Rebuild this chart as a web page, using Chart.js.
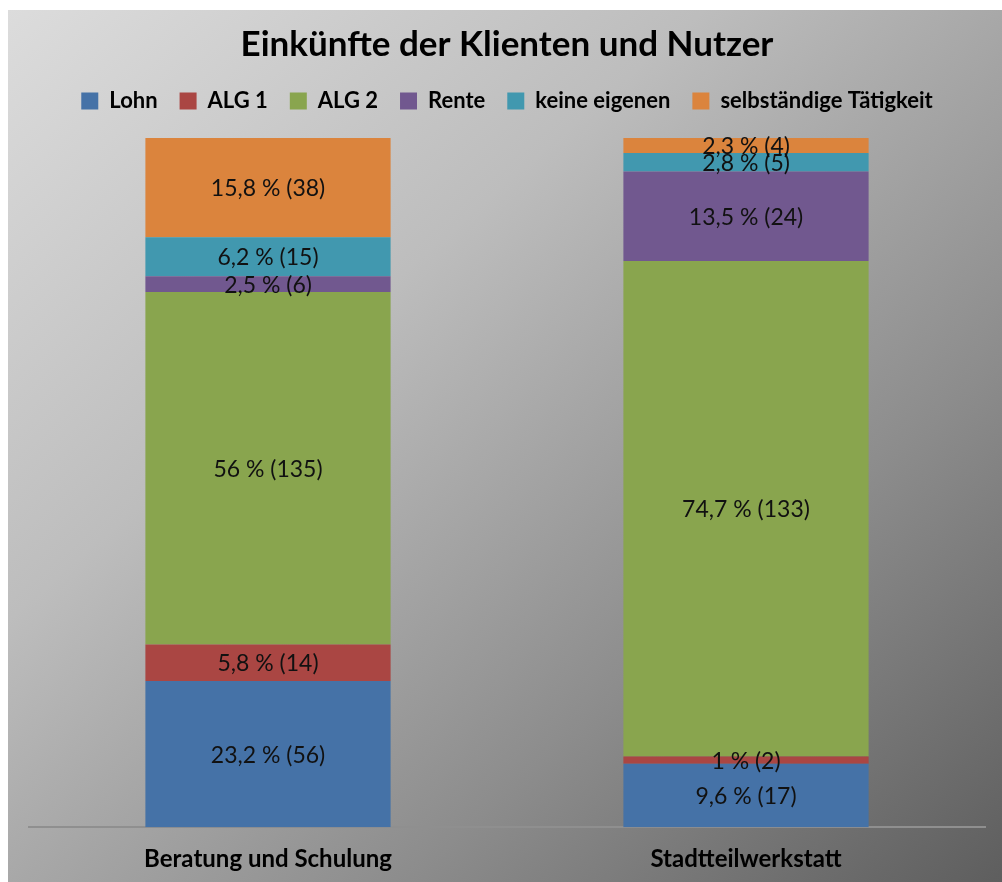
<!DOCTYPE html>
<html>
<head>
<meta charset="utf-8">
<title>Einkünfte der Klienten und Nutzer</title>
<script src="https://cdn.jsdelivr.net/npm/chart.js@4/dist/chart.umd.min.js"></script>
<style>
    html, body { margin: 0; padding: 0; background: #ffffff; }
    #wrap {
        position: absolute;
        left: 8px;
        top: 10px;
        width: 994px;
        height: 872px;
        background: linear-gradient(to bottom right, #dcdcdc 0%, #bdbdbd 35%, #8c8c8c 70%, #5e5e5e 100%);
    }
</style>
</head>
<body>
<div id="wrap"><canvas id="chart" width="994" height="872"></canvas></div>
<script>
// Kategorien
const categories = ['Beratung und Schulung', 'Stadtteilwerkstatt'];

// Serien (Anzahl Personen)
const seriesNames = ['Lohn', 'ALG 1', 'ALG 2', 'Rente', 'keine eigenen', 'selbständige Tätigkeit'];
const lohn = [56, 17];
const alg1 = [14, 2];
const alg2 = [135, 133];
const rente = [6, 24];
const keineEigenen = [15, 5];
const selbstaendig = [38, 4];

// Beschriftungen wie im Original
const lohnLabels = ['23,2 % (56)', '9,6 % (17)'];
const alg1Labels = ['5,8 % (14)', '1 % (2)'];
const alg2Labels = ['56 % (135)', '74,7 % (133)'];
const renteLabels = ['2,5 % (6)', '13,5 % (24)'];
const keineLabels = ['6,2 % (15)', '2,8 % (5)'];
const selbstLabels = ['15,8 % (38)', '2,3 % (4)'];

const seriesColors = ['#4572A7', '#AA4643', '#89A54E', '#71588F', '#4198AF', '#DB843D'];

const FONT = 'Lato, "Open Sans", sans-serif';

const counts = [lohn, alg1, alg2, rente, keineEigenen, selbstaendig];
const labelSets = [lohnLabels, alg1Labels, alg2Labels, renteLabels, keineLabels, selbstLabels];

// 100%-Stapel: Anteil je Kategorie
const totals = categories.map((c, i) => counts.reduce((s, arr) => s + arr[i], 0));

const datasets = counts.map((arr, k) => ({
    label: seriesNames[k],
    data: arr.map((v, i) => v / totals[i] * 100),
    valueLabels: labelSets[k],
    backgroundColor: seriesColors[k],
    borderWidth: 0,
    barPercentage: 0.513,
    categoryPercentage: 1.0
}));

// Werte in die Balken schreiben
const segmentLabels = {
    id: 'segmentLabels',
    afterDatasetsDraw(chart) {
        const ctx = chart.ctx;
        ctx.save();
        ctx.font = '23px ' + FONT;
        ctx.fillStyle = '#111111';
        ctx.textAlign = 'center';
        ctx.textBaseline = 'middle';
        chart.data.datasets.forEach((ds, k) => {
            const meta = chart.getDatasetMeta(k);
            meta.data.forEach((bar, i) => {
                const p = bar.getCenterPoint();
                ctx.fillText(ds.valueLabels[i], p.x, p.y + 1);
            });
        });
        ctx.restore();
    }
};

// etwas Abstand zwischen Legende und Balken
const legendGap = {
    id: 'legendGap',
    beforeInit(chart) {
        const origFit = chart.legend.fit;
        chart.legend.fit = function () {
            origFit.bind(chart.legend)();
            this.height += 16;
        };
    }
};

new Chart(document.getElementById('chart').getContext('2d'), {
    type: 'bar',
    data: { labels: categories, datasets: datasets },
    options: {
        responsive: false,
        animation: false,
        events: [],
        layout: { padding: { left: 21, right: 17, top: 0, bottom: -10 } },
        plugins: {
            title: {
                display: true,
                text: 'Einkünfte der Klienten und Nutzer',
                color: '#000000',
                font: { family: FONT, size: 35, weight: 'bold' },
                padding: { top: 14, bottom: 2 }
            },
            legend: {
                display: true,
                position: 'top',
                labels: {
                    color: '#000000',
                    font: { family: FONT, size: 22, weight: 'bold' },
                    boxWidth: 17,
                    boxHeight: 17,
                    padding: 22
                }
            },
            tooltip: { enabled: false }
        },
        scales: {
            x: {
                stacked: true,
                grid: { display: false, drawTicks: false },
                border: { display: true, color: '#8f8f8f', width: 2 },
                ticks: {
                    color: '#000000',
                    font: { family: FONT, size: 24, weight: 'bold' },
                    padding: 18
                }
            },
            y: {
                stacked: true,
                display: false,
                min: 0,
                max: 100
            }
        }
    },
    plugins: [segmentLabels, legendGap]
});
</script>
</body>
</html>
